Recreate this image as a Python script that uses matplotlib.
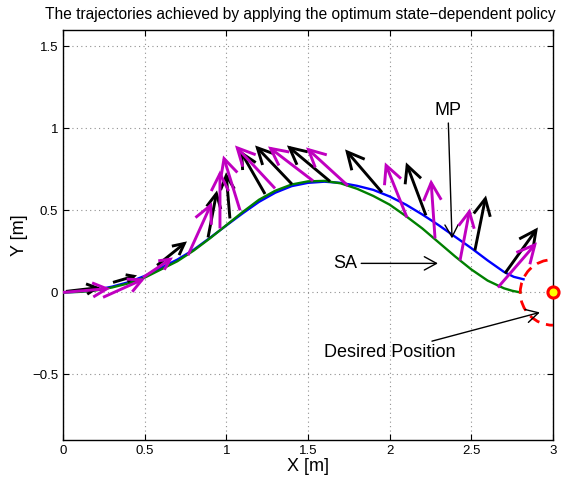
import numpy as np
import matplotlib
matplotlib.use("Agg")
import matplotlib.pyplot as plt
from matplotlib.patches import Circle
from matplotlib.patches import ArrowStyle

plt.rcParams['font.family'] = ['Liberation Sans', 'DejaVu Sans']

# ---------------- data ----------------
# SA trajectory (green)
sa_x = [0.0, 0.1, 0.2, 0.3, 0.4, 0.5, 0.6, 0.7, 0.8, 0.9, 1.0, 1.1, 1.2, 1.3, 1.4, 1.5,
        1.6, 1.7, 1.8, 1.9, 2.0, 2.1, 2.2, 2.3, 2.4, 2.5, 2.6, 2.7, 2.75, 2.8]
sa_y = [0.0, 0.003, 0.012, 0.03, 0.055, 0.09, 0.14, 0.19, 0.255, 0.33, 0.41, 0.49, 0.565,
        0.62, 0.658, 0.677, 0.68, 0.665, 0.632, 0.588, 0.535, 0.465, 0.39, 0.305, 0.22,
        0.14, 0.072, 0.025, 0.01, 0.0]
# MP trajectory (blue)
mp_x = [0.0, 0.1, 0.2, 0.3, 0.4, 0.5, 0.6, 0.7, 0.8, 0.9, 1.0, 1.1, 1.2, 1.3, 1.4, 1.5,
        1.6, 1.7, 1.8, 1.9, 2.0, 2.1, 2.2, 2.3, 2.4, 2.5, 2.6, 2.7, 2.76, 2.82]
mp_y = [0.0, 0.004, 0.015, 0.035, 0.062, 0.10, 0.15, 0.2, 0.26, 0.333, 0.408, 0.482, 0.552,
        0.608, 0.648, 0.668, 0.675, 0.668, 0.65, 0.625, 0.585, 0.535, 0.475, 0.41, 0.34,
        0.27, 0.195, 0.125, 0.095, 0.08]

# black policy arrows (tail x, tail y, head x, head y)
blk_x0 = [0.018, 0.306, 0.576, 0.888, 1.022, 1.237, 1.402, 1.635, 1.953, 2.222, 2.522, 2.706]
blk_y0 = [0.006, 0.061, 0.165, 0.335, 0.451, 0.600, 0.660, 0.677, 0.610, 0.470, 0.256, 0.116]
blk_x1 = [0.227, 0.453, 0.759, 0.943, 0.998, 1.084, 1.176, 1.371, 1.727, 2.100, 2.590, 2.908]
blk_y1 = [0.030, 0.104, 0.311, 0.622, 0.732, 0.866, 0.896, 0.896, 0.872, 0.793, 0.591, 0.396]

# magenta policy arrows
mag_x0 = [0.0, 0.245, 0.490, 0.765, 0.961, 1.084, 1.298, 1.531, 1.745, 2.106, 2.278, 2.431, 2.663]
mag_y0 = [0.0, -0.030, 0.091, 0.226, 0.390, 0.500, 0.634, 0.680, 0.650, 0.457, 0.329, 0.195, 0.030]
mag_x1 = [0.288, 0.502, 0.673, 0.912, 0.961, 0.980, 1.053, 1.255, 1.488, 1.971, 2.253, 2.492, 2.902]
mag_y1 = [0.024, 0.085, 0.213, 0.549, 0.744, 0.835, 0.896, 0.890, 0.884, 0.793, 0.689, 0.512, 0.305]

target = (3.0, 0.0)
target_radius = 0.2

x_ticks = [0, 0.5, 1, 1.5, 2, 2.5, 3]
x_ticklabels = ['0', '0.5', '1', '1.5', '2', '2.5', '3']
y_ticks = [-0.5, 0, 0.5, 1, 1.5]
y_ticklabels = ['\u22120.5', '0', '0.5', '1', '1.5']

# ---------------- figure ----------------
DPI = 100
fig = plt.figure(figsize=(5.73, 4.79), dpi=DPI)
ax = fig.add_axes([0.110, 0.0814, 0.855, 0.856])
ax.set_xlim(0, 3)
ax.set_ylim(-0.9, 1.6)

ax.plot(mp_x, mp_y, color='#0000ff', lw=1.7, zorder=3, solid_joinstyle='round')
ax.plot(sa_x, sa_y, color='#008000', lw=1.7, zorder=3, solid_joinstyle='round')

fig.canvas.draw()


def draw_arrow(x0, y0, x1, y1, color):
    p0 = ax.transData.transform((x0, y0))
    p1 = ax.transData.transform((x1, y1))
    L = np.hypot(*(p1 - p0))
    head_px = 0.3 * L
    ms = head_px * 72.0 / DPI / 0.5
    style = ArrowStyle('->', head_length=0.5, head_width=0.25)
    ax.annotate('', xy=(x1, y1), xytext=(x0, y0),
                arrowprops=dict(arrowstyle=style, color=color, lw=2.1,
                                mutation_scale=ms, shrinkA=0, shrinkB=0,
                                capstyle='butt', joinstyle='miter'),
                zorder=4)


for a, b, c, d in zip(blk_x0, blk_y0, blk_x1, blk_y1):
    draw_arrow(a, b, c, d, 'black')
for a, b, c, d in zip(mag_x0, mag_y0, mag_x1, mag_y1):
    draw_arrow(a, b, c, d, '#c000c0')

# desired region
circ = Circle(target, target_radius, fill=False, ec='red', lw=2.0, ls=(0, (4, 2.5)), zorder=3)
ax.add_patch(circ)
ax.plot([target[0]], [target[1]], 'o', ms=8, mfc='yellow', mec='red', mew=2.2,
        clip_on=False, zorder=6)

# annotations
ann_style = ArrowStyle('->', head_length=0.55, head_width=0.3)
ann_props = dict(arrowstyle=ann_style, color='black', lw=1.0, mutation_scale=16,
                 shrinkA=1, shrinkB=0, joinstyle='miter')
ax.annotate('MP', xy=(2.382, 0.329), xytext=(2.357, 1.11), ha='center', va='center',
            fontsize=13, arrowprops=ann_props)
ax.annotate('SA', xy=(2.296, 0.177), xytext=(1.727, 0.177), ha='center', va='center',
            fontsize=13, arrowprops=ann_props)
ax.annotate('Desired Position', xy=(2.92, -0.122), xytext=(2.0, -0.366), ha='center',
            va='center', fontsize=13, arrowprops=dict(ann_props, shrinkA=0))

ax.set_xticks(x_ticks)
ax.set_xticklabels(x_ticklabels)
ax.set_yticks(y_ticks)
ax.set_yticklabels(y_ticklabels)
ax.tick_params(direction='in', top=True, right=True, length=4, labelsize=9.5, width=0.8)
ax.grid(True, ls=(0, (1, 3)), color='#909090', lw=0.8)
for s in ax.spines.values():
    s.set_linewidth(1.0)

ax.set_xlabel('X [m]', fontsize=13, labelpad=1)
ax.set_ylabel('Y [m]', fontsize=13, labelpad=3)
ax.set_title('The trajectories achieved by applying the optimum state\u2212dependent policy',
             fontsize=11.2, pad=8, x=0.4837)

fig.savefig('out.png', dpi=DPI)
